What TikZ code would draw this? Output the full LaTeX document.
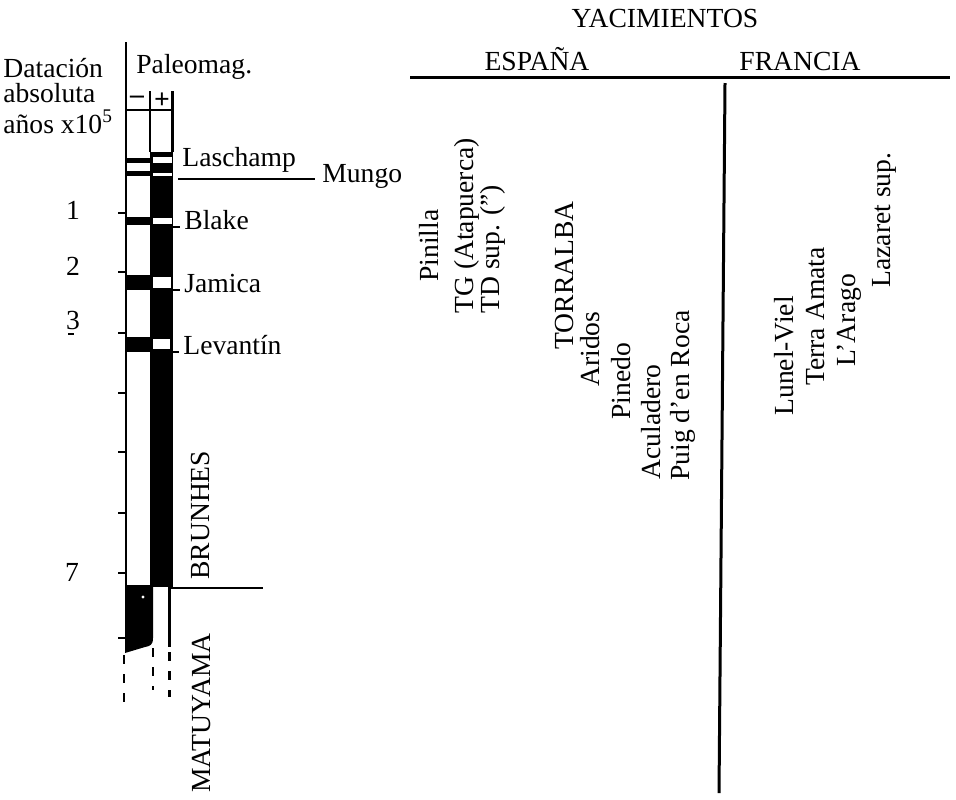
\documentclass[tikz,border=0pt]{standalone}
\usepackage{fontspec}
\setmainfont{Liberation Serif}
\newcommand\fsz{\fontsize{13.8}{16}\selectfont}
\begin{document}
\begin{tikzpicture}[x=0.5pt,y=-0.5pt,
  lbl/.style={inner sep=0pt, font=\fsz},
  hlbl/.style={inner sep=0pt, font=\fsz, anchor=base west},
  vlbl/.style={inner sep=0pt, font=\fsz, rotate=90, anchor=base west},
  heavy/.style={line width=1.5pt},
  axisline/.style={line width=1.1pt},
  fine/.style={line width=0.8pt},
  dashline/.style={line width=1.2pt, dash pattern=on 4.5pt off 5pt}]
\useasboundingbox (0,0) rectangle (956,799);

% ---------- right-hand header ----------
\node[lbl] (yac) at (665,18) {YACIMIENTOS};
\node[lbl, anchor=base] (esp) at (537,70) {ESPAÑA};
\node[lbl, anchor=base] (fra) at (800,70) {FRANCIA};
\coordinate (hlA) at (410,77);
\coordinate (hlB) at (950,77);
\draw[heavy] (hlA) -- (hlB);
\coordinate (vlA) at (725,83);
\coordinate (vlB) at (719,793);
\draw[heavy] (vlA) -- (vlB);

% ---------- sites ----------
\node[vlbl] (pin) at (438,282) {Pinilla};
\node[vlbl] (tg)  at (473,314) {TG (Atapuerca)};
\node[vlbl] (td)  at (499,314) {TD sup. (”)};
\node[vlbl] (tor) at (573,350) {TORRALBA};
\node[vlbl] (ari) at (599,387) {Aridos};
\node[vlbl] (pnd) at (630,420) {Pinedo};
\node[vlbl] (acu) at (660,480) {Aculadero};
\node[vlbl] (pui) at (689,481) {Puig d’en Roca};
\node[vlbl] (lun) at (793,416) {Lunel-Viel};
\node[vlbl] (ter) at (824,386) {Terra Amata};
\node[vlbl] (ara) at (855,367) {L’Arago};
\node[vlbl] (laz) at (890,288) {Lazaret sup.};

% ---------- left headings ----------
\node[hlbl] (dat) at (3,77) {Datación};
\node[hlbl] (abs) at (3,102) {absoluta};
\node[hlbl] (ano) at (3,133) {años x10\textsuperscript{5}};
\node[hlbl] (pal) at (136,73) {Paleomag.};
\node[lbl, font=\fsz\bfseries] (neg) at (137,100) {–};
\node[lbl, font=\fsz\bfseries] (pos) at (162,101) {+};

% ---------- axis ----------
\coordinate (axT) at (126,42);
\coordinate (axB) at (126,587);
\draw[axisline] (axT) -- (axB);
\foreach \yy in {213,272,333,393,452,513,573,638}
  \draw[axisline] (118,\yy) -- (126,\yy);
\node[lbl] (n1) at (73,210) {1};
\node[lbl] (n2) at (73,266) {2};
\node[lbl] (n3) at (73,320) {3};
\draw[fine] (68,334) -- (74,334);
\node[lbl] (n7) at (72,572) {7};

% ---------- column header ----------
\draw[axisline] (150,91) -- (150,152);
\draw[axisline] (172.5,91) -- (172.5,152);
\draw[axisline] (126,110) -- (173,110);

% ---------- right strip (+) ----------
\fill (150,152) rectangle (173,587);
\fill[white] (153,157) rectangle (172,163);
\fill[white] (153,173) rectangle (172,175.5);
\fill[white] (153,218) rectangle (172,224);
\fill[white] (153,277) rectangle (171,288);
\fill[white] (153,339) rectangle (170,349);

% ---------- left strip (-) ----------
\fill (126,158) rectangle (150,163);
\fill (126,171) rectangle (150,176);
\fill (126,217) rectangle (150,225);
\fill (126,275) rectangle (150,290);
\fill (126,337) rectangle (150,352);

% ---------- event labels ----------
\node[hlbl] (las) at (182,166) {Laschamp};
\node[hlbl] (mun) at (322,182) {Mungo};
\node[hlbl] (bla) at (184,229) {Blake};
\node[hlbl] (jam) at (184,292) {Jamica};
\node[hlbl] (lev) at (183,354) {Levantín};
\coordinate (muA) at (178,179);
\coordinate (muB) at (315,179);
\draw[fine] (muA) -- (muB);
\draw[fine] (172,227) -- (180,227);
\draw[fine] (172,290) -- (180,290);
\draw[fine] (170,352) -- (179,352);

% ---------- bottom ----------
\fill (125,585) -- (153,585) -- (153,638)
  .. controls (153,645) and (150,646) .. (145,647) -- (125,653) -- cycle;
\fill[white] (143,597) circle[radius=1.6];
\draw[axisline] (169.5,587) -- (169.5,647);
\coordinate (bhA) at (169,588);
\coordinate (bhB) at (263,588);
\draw[fine] (bhA) -- (bhB);
\draw[dashline] (124,655) -- (124,702);
\draw[dashline] (153,648) -- (153,690);
\draw[dashline] (169.5,652) -- (169.5,697);

\node[vlbl] (bru) at (209,580) {BRUNHES};
\node[vlbl] (mat) at (210,793) {MATUYAMA};
\end{tikzpicture}
\end{document}
